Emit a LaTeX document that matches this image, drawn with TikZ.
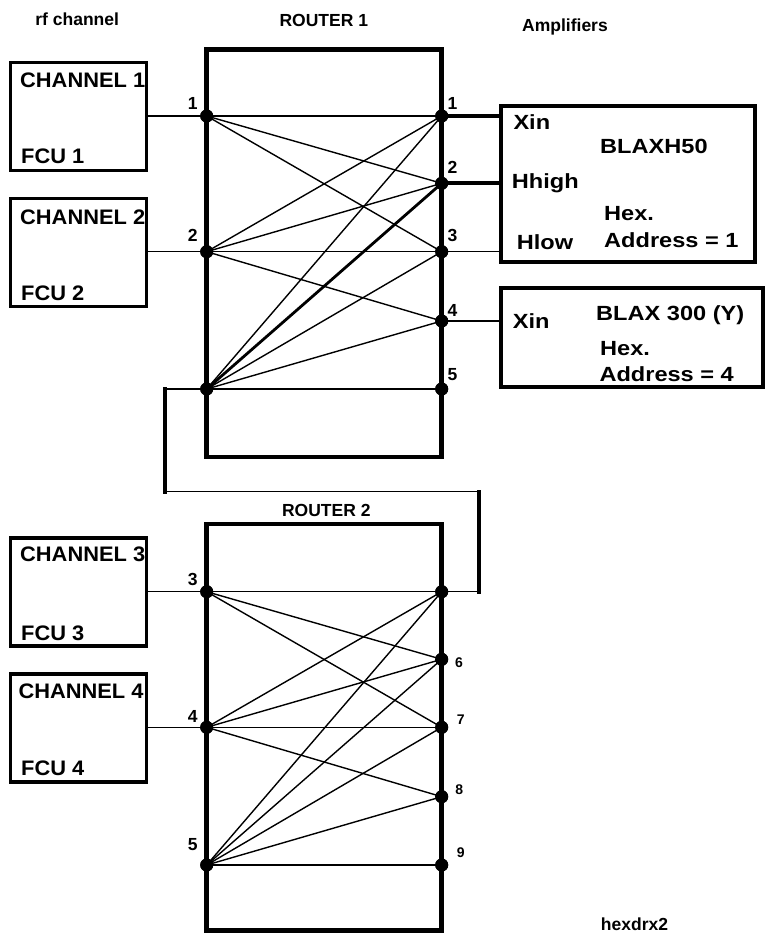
\documentclass[tikz,border=0pt]{standalone}
\usepackage{fontspec}
\setmainfont{Liberation Sans}
\newfontfamily\chfont{Liberation Sans}[FakeStretch=1.04]
\newfontfamily\ampfont{Liberation Sans}[FakeStretch=1.15]
\begin{document}
\begin{tikzpicture}[x=1pt,y=-1pt,
  dot/.style={circle, fill=black, inner sep=0pt, minimum size=13pt},
  router/.style={draw, line width=4.8pt, minimum width=235pt, inner sep=0pt},
  chbox/.style={draw, line width=3.6pt, minimum width=136pt, minimum height=108pt, inner sep=0pt},
  ampbox/.style={draw, line width=4pt, inner sep=0pt},
  wire/.style={line width=1.4pt},
  midwire/.style={line width=2.8pt},
  heavy/.style={line width=4pt},
  lbl/.style={font=\fontsize{17.5}{20}\selectfont\bfseries, inner sep=0pt, anchor=base},
  smlbl/.style={font=\fontsize{14}{16}\selectfont\bfseries, inner sep=0pt, anchor=base},
  chtext/.style={font=\chfont\fontsize{21}{24}\selectfont\bfseries, inner sep=0pt, anchor=base west},
  amptext/.style={font=\ampfont\fontsize{20.5}{24}\selectfont\bfseries, inner sep=0pt, anchor=base west}]
\useasboundingbox (0,0) rectangle (767,934);

% headings
\node[lbl] (hrf) at (77.2,26) {rf channel};
\node[lbl] (hr1) at (323.8,26.7) {ROUTER 1};
\node[lbl, anchor=base west] (hamp) at (522,31.7) {Amplifiers};
\node[lbl] (hr2) at (326.3,516.7) {ROUTER 2};
\node[lbl, anchor=base west] (hfile) at (600.7,930.7) {hexdrx2};

% routers
\node[router, minimum height=407.8pt] (r1) at (324.2,253.1) {};
\node[router, minimum height=406.7pt] (r2) at (324.2,727.35) {};

% router 1 ports
\node[dot] (a1) at (206.7,116) {};
\node[dot] (a2) at (206.7,251.7) {};
\node[dot] (a3) at (206.7,389) {};
\node[dot] (b1) at (441.7,116) {};
\node[dot] (b2) at (441.7,183.3) {};
\node[dot] (b3) at (441.7,251.7) {};
\node[dot] (b4) at (441.7,321) {};
\node[dot] (b5) at (441.7,389) {};

% router 2 ports
\node[dot] (c3) at (206.7,591.7) {};
\node[dot] (c4) at (206.7,727.3) {};
\node[dot] (c5) at (206.7,865) {};
\node[dot] (d0) at (441.7,591.7) {};
\node[dot] (d6) at (441.7,659.3) {};
\node[dot] (d7) at (441.7,727.3) {};
\node[dot] (d8) at (441.7,796.7) {};
\node[dot] (d9) at (441.7,865) {};

% router 1 crosspoints
\foreach \s/\t in {a1/b1,a1/b2,a1/b3,a2/b1,a2/b2,a2/b3,a2/b4,a3/b1,a3/b3,a3/b4,a3/b5}
  \draw[wire] (\s.center) -- (\t.center);
\draw[midwire] (a3.center) -- (b2.center);

% router 2 crosspoints
\foreach \s/\t in {c3/d0,c3/d6,c3/d7,c4/d0,c4/d6,c4/d7,c4/d8,c5/d0,c5/d6,c5/d7,c5/d8,c5/d9}
  \draw[wire] (\s.center) -- (\t.center);

% redraw dots on top
\foreach \p in {a1,a2,a3,b1,b2,b3,b4,b5,c3,c4,c5,d0,d6,d7,d8,d9}
  \fill (\p.center) circle (6.5pt);

% port labels router 1
\node[lbl] (la1) at (192.7,109.3) {1};
\node[lbl] (la2) at (192.7,241.7) {2};
\node[lbl] (lb1) at (452.5,109.3) {1};
\node[lbl] (lb2) at (452.5,173.3) {2};
\node[lbl] (lb3) at (452.5,241.7) {3};
\node[lbl] (lb4) at (452.5,316) {4};
\node[lbl] (lb5) at (452.5,380) {5};

% port labels router 2
\node[lbl] (lc3) at (192.7,585) {3};
\node[lbl] (lc4) at (192.7,722.7) {4};
\node[lbl] (lc5) at (192.7,850) {5};
\node[smlbl] (ld6) at (459,667.3) {6};
\node[smlbl] (ld7) at (460.7,724.3) {7};
\node[smlbl] (ld8) at (459.3,794.3) {8};
\node[smlbl] (ld9) at (460.7,857.3) {9};

% channel boxes
\begin{scope}
\clip (10.5,62.5) rectangle (146.5,170.5);
\node[chtext] (tc1) at (20,87) {CHANNEL 1};
\node[chtext] (tf1) at (21,163.5) {FCU 1};
\end{scope}
\node[chbox] (ch1) at (78.5,116.5) {};

\begin{scope}
\clip (10.5,198.5) rectangle (146.5,306.5);
\node[chtext] (tc2) at (20,224) {CHANNEL 2};
\node[chtext] (tf2) at (21,300) {FCU 2};
\end{scope}
\node[chbox] (ch2) at (78.5,252.5) {};

\begin{scope}
\clip (10.5,537.5) rectangle (146.5,646);
\node[chtext] (tc3) at (20,561.7) {CHANNEL 3};
\node[chtext] (tf3) at (21,640) {FCU 3};
\end{scope}
\node[chbox] (ch3) at (78.5,591.75) {};

\begin{scope}
\clip (10.5,674) rectangle (146.5,782);
\node[chtext] (tc4) at (18.3,698) {CHANNEL 4};
\node[chtext] (tf4) at (21,775) {FCU 4};
\end{scope}
\node[chbox] (ch4) at (78.5,728) {};

% channel to router wires
\draw[wire] (a1.center) -- (a1.center -| ch1.east);
\draw[wire] (a2.center) -- (a2.center -| ch2.east);
\draw[wire] (c3.center) -- (c3.center -| ch3.east);
\draw[wire] (c4.center) -- (c4.center -| ch4.east);

% link router 1 -> router 2
\coordinate (k1) at (165,389);
\coordinate (k2) at (165,491.7);
\coordinate (k3) at (479,491.7);
\coordinate (k4) at (479,591.7);
\draw[wire] (a3.center) -- (k1);
\draw[heavy, line cap=rect] (k1) -- (k2);
\draw[wire] (k2) -- (k3);
\draw[heavy, line cap=rect] (k3) -- (k4);
\draw[wire] (k4) -- (d0.center);

% amplifiers
\node[ampbox, minimum width=254.5pt, minimum height=155.8pt] (amp1) at (627.75,184.1) {};
\node[ampbox, minimum width=262.3pt, minimum height=99pt] (amp2) at (632.15,337.8) {};

\draw[heavy] (b1.center) -- (b1.center -| amp1.west);
\draw[heavy] (b2.center) -- ([xshift=2.5pt]b2.center -| amp1.west);
\draw[wire] (b3.center) -- (b3.center -| amp1.west);
\draw[wire] (b4.center) -- (b4.center -| amp2.west);

\node[amptext] (x1) at (513.3,129.3) {Xin};
\node[amptext] (n1) at (600,153.3) {BLAXH50};
\node[amptext] (hh) at (511.7,188.3) {Hhigh};
\node[amptext] (he1) at (604,220) {Hex.};
\node[amptext] (ad1) at (604,247.7) {Address = 1};
\node[amptext] (hl) at (516.7,249) {Hlow};

\node[amptext] (x2) at (512.7,328.3) {Xin};
\node[amptext] (n2) at (596,320.7) {BLAX 300 (Y)};
\node[amptext] (he2) at (600,355) {Hex.};
\node[amptext] (ad2) at (599.3,381.7) {Address = 4};
\end{tikzpicture}
\end{document}
